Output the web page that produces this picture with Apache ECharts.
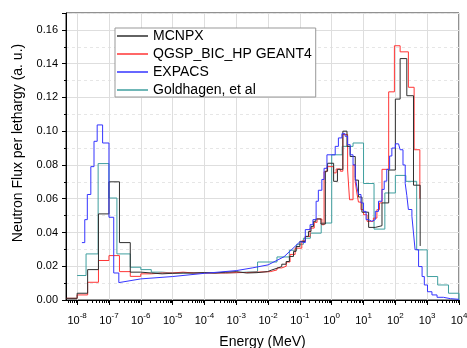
<!DOCTYPE html>
<html>
<head>
<meta charset="utf-8">
<script src="https://cdn.jsdelivr.net/npm/echarts@6/dist/echarts.min.js"></script>
<style>
html,body{margin:0;padding:0;background:#fff;}
#chart{width:467px;height:348px;}
</style>
</head>
<body>
<div id="chart"></div>
<script>
// ---------- data (energies stored as log10(E / MeV)) ----------
const seriesNames = ['MCNPX', 'QGSP_BIC_HP GEANT4', 'EXPACS', 'Goldhagen, et al'];
const xTickExponents = [-8, -7, -6, -5, -4, -3, -2, -1, 0, 1, 2, 3, 4];
const yTickLabels = ['0.00', '0.02', '0.04', '0.06', '0.08', '0.10', '0.12', '0.14', '0.16'];
const minorTickMultipliers = [2, 3, 4, 5, 6, 7, 8, 9];

// MCNPX: bin left edges, value of each bin (last value = level the final edge drops to)
const mcnpxLogE = [-8.33, -8.0, -7.67, -7.33, -7.0, -6.67, -6.33, -6.0, -5.67, -5.33, -5.0, -4.67, -4.33, -4.0,
  -3.67, -3.33, -3.0, -2.67, -2.35, -2.02, -1.88, -1.72, -1.57, -1.43, -1.33, -1.20, -1.12, -1.0, -0.83, -0.73,
  -0.65, -0.57, -0.50, -0.34, -0.20, -0.13, 0.06, 0.18, 0.35, 0.48, 0.58, 0.74, 0.84, 0.95, 1.16, 1.37, 1.58,
  1.79, 2.0, 2.15, 2.36, 2.57, 2.78];
const mcnpxFlux = [0.001, 0.004, 0.018, 0.051, 0.070, 0.034, 0.0165, 0.016, 0.0155, 0.0158, 0.016, 0.016, 0.0162, 0.016,
  0.0165, 0.0168, 0.016, 0.0162, 0.0168, 0.0178, 0.0188, 0.0198, 0.0212, 0.0228, 0.0258, 0.0288, 0.0317, 0.0347, 0.0377, 0.0406,
  0.0436, 0.0466, 0.048, 0.045, 0.0763, 0.081, 0.0703, 0.0774, 0.100, 0.091, 0.085, 0.071, 0.061, 0.052, 0.043, 0.044, 0.0575,
  0.077, 0.119, 0.143, 0.121, 0.068, 0.032];

// QGSP_BIC_HP GEANT4
const geantLogE = [-8.33, -8.0, -7.67, -7.33, -7.0, -6.67, -6.33, -6.0, -5.67, -5.33, -5.0, -4.67, -4.33, -4.0,
  -3.67, -3.33, -3.0, -2.67, -2.35, -1.93, -1.72, -1.57, -1.43, -1.31, -1.15, -0.94, -0.83, -0.68, -0.55, -0.46,
  -0.31, -0.24, -0.15, 0.06, 0.14, 0.27, 0.35, 0.50, 0.56, 0.67, 0.74, 0.79, 0.84, 0.92, 1.00, 1.11, 1.31, 1.42,
  1.50, 1.58, 1.79, 1.97, 2.15, 2.41, 2.59, 2.77];
const geantFlux = [0.001, 0.003, 0.0105, 0.0234, 0.0263, 0.0168, 0.014, 0.0155, 0.016, 0.016, 0.0165, 0.016, 0.016, 0.016,
  0.016, 0.0162, 0.0163, 0.0165, 0.0168, 0.0178, 0.019, 0.020, 0.0225, 0.027, 0.0307, 0.035, 0.0376, 0.0426, 0.046, 0.048,
  0.0446, 0.076, 0.079, 0.0753, 0.0776, 0.0763, 0.098, 0.077, 0.0594, 0.080, 0.070, 0.0634, 0.058, 0.0535, 0.0505, 0.0466, 0.0485, 0.0535,
  0.0575, 0.0774, 0.1233, 0.1506, 0.147, 0.126, 0.089, 0.060];

// EXPACS: thermal bins, smooth epithermal curve, fast bins
const expacsThermalEdges = [-7.85, -7.76, -7.68, -7.57, -7.47, -7.37, -7.2, -7.0, -6.85, -6.69];
const expacsThermalFlux = [0.034, 0.0476, 0.0625, 0.079, 0.094, 0.1037, 0.093, 0.049, 0.016];
const expacsMidLogE = [-6.69, -6.0, -5.0, -4.0, -3.0, -2.5, -2.0, -1.5, -1.25, -1.0];
const expacsMidFlux = [0.0103, 0.0125, 0.0139, 0.0158, 0.0174, 0.019, 0.0208, 0.0256, 0.030, 0.0345];
const expacsFastEdges = [-1.0, -0.83, -0.68, -0.59, -0.49, -0.42, -0.31, -0.24, -0.15, 0.11, 0.21, 0.32, 0.42, 0.50, 0.58,
  0.67, 0.74, 0.79, 0.84, 0.92, 1.00, 1.08, 1.16, 1.26, 1.37, 1.47, 1.58, 1.65, 1.73, 1.82, 1.89, 2.00, 2.10, 2.15, 2.24,
  2.31, 2.36, 2.41, 2.52, 2.57, 2.62, 2.73, 2.84, 2.91, 3.01, 3.15, 3.31, 3.51, 3.73, 4.0];
const expacsFastFlux = [0.034, 0.0417, 0.0446, 0.0476, 0.0585, 0.065, 0.0714, 0.078, 0.086, 0.091, 0.096, 0.0985, 0.097, 0.092, 0.086,
  0.080, 0.073, 0.067, 0.0625, 0.0575, 0.0525, 0.0476, 0.0466, 0.0476, 0.0525, 0.0585, 0.0655, 0.0704, 0.0774, 0.0853, 0.090, 0.0925, 0.0927, 0.089, 0.080,
  0.069, 0.062, 0.0536, 0.0496, 0.0397, 0.0298, 0.0198, 0.0139, 0.0089, 0.0049, 0.003, 0.0016, 0.0008, 0.0004];

// Goldhagen, et al
const goldLogE = [-8.0, -7.72, -7.34, -7.0, -6.75, -6.33, -6.0, -5.67, -5.33, -5.0, -4.67, -4.33, -4.0, -3.67, -3.33, -3.0,
  -2.67, -2.33, -1.72, -1.33, -1.1, -0.89, -0.67, -0.33, 0.0, 0.33, 0.67, 1.0, 1.33, 1.67, 2.0, 2.33, 2.67, 3.0, 3.33, 3.67, 4.0];
const goldFlux = [0.0145, 0.0273, 0.0808, 0.0604, 0.0273, 0.0194, 0.018, 0.0165, 0.016, 0.016, 0.016, 0.0162, 0.016, 0.016, 0.0162, 0.0165,
  0.0168, 0.0225, 0.0255, 0.0295, 0.033, 0.0366, 0.0396, 0.0456, 0.086, 0.091, 0.093, 0.069, 0.042, 0.0634, 0.0738, 0.0703, 0.0297, 0.0139, 0.0089, 0.004, 0.0];

// ---------- build ----------
const colors = {MCNPX: '#2e2e2e', GEANT: '#ff3535', EXPACS: '#3535ff', GOLD: '#3f9f9f'};
const xMinExp = -8.35, xMaxExp = 4;
const gridLeft = 66, gridRight = 8, gridTop = 13, gridBottom = 48;
const plotW = 467 - gridLeft - gridRight;
const gridBLeft = gridLeft + (xTickExponents[0] - xMinExp) / (xMaxExp - xMinExp) * plotW;

function stepPoints(logE, flux) { return logE.map((e, i) => [e, flux[i]]); }
function binCorners(edges, flux) {
  const pts = [];
  for (let i = 0; i < flux.length; i++) { pts.push([edges[i], flux[i]], [edges[i + 1], flux[i]]); }
  return pts;
}
const expacsData = binCorners(expacsThermalEdges, expacsThermalFlux)
  .concat(expacsMidLogE.map((e, i) => [e, expacsMidFlux[i]]))
  .concat(binCorners(expacsFastEdges, expacsFastFlux));

const minorTickLogE = [];
for (let n = -9; n <= 3; n++) {
  minorTickMultipliers.forEach(k => {
    const v = n + Math.log10(k);
    if (v > xMinExp && v < xMaxExp) minorTickLogE.push([v, 0]);
  });
}

const FONT = '"Liberation Sans", Arial, Helvetica, sans-serif';
const chart = echarts.init(document.getElementById('chart'), null, {renderer: 'canvas'});

const lineSeries = (name, data, color, step) => ({
  name: name, type: 'line', xAxisIndex: 0, yAxisIndex: 0, data: data, step: step,
  symbol: 'none', showSymbol: false, silent: true, animation: false,
  lineStyle: {color: color, width: 1}, itemStyle: {color: color}
});

chart.setOption({
  animation: false,
  backgroundColor: '#fff',
  textStyle: {fontFamily: FONT},
  grid: [
    {left: gridLeft, right: gridRight, top: gridTop, bottom: gridBottom, show: true,
     borderColor: '#222', borderWidth: 1, backgroundColor: 'transparent', containLabel: false, outerBoundsMode: 'none'},
    {left: gridBLeft, right: gridRight, top: gridTop, bottom: gridBottom, show: false, containLabel: false, outerBoundsMode: 'none'}
  ],
  xAxis: [
    {type: 'value', gridIndex: 0, min: xMinExp, max: xMaxExp,
     axisLine: {show: true, onZero: false, lineStyle: {color: '#000', width: 1}},
     axisTick: {show: false}, axisLabel: {show: false}, splitLine: {show: false},
     name: 'Energy (MeV)', nameLocation: 'middle', nameGap: 35,
     nameTextStyle: {fontSize: 14, color: '#000', fontFamily: FONT}},
    {type: 'value', gridIndex: 1, min: xTickExponents[0], max: xTickExponents[xTickExponents.length - 1], interval: 1,
     axisLine: {show: false, onZero: false},
     axisTick: {show: true, inside: false, length: 5, lineStyle: {color: '#000', width: 1}},
     splitLine: {show: true, lineStyle: {color: '#dedede', width: 1}},
     axisLabel: {show: true, margin: 12, color: '#000',
       formatter: v => xTickExponents.indexOf(v) >= 0 ? '{b|10}{s|' + v + '}' : '',
       rich: {
         b: {fontSize: 11, lineHeight: 18, fontFamily: FONT, color: '#000'},
         s: {fontSize: 8, lineHeight: 9, verticalAlign: 'top', fontFamily: FONT, color: '#000'}
       }}}
  ],
  yAxis: [
    {type: 'value', gridIndex: 0, min: 0, max: 0.17, interval: 0.02,
     axisLine: {show: true, onZero: false, lineStyle: {color: '#000', width: 1}},
     axisTick: {show: true, inside: false, length: 4, lineStyle: {color: '#000'}},
     minorTick: {show: true, splitNumber: 2, length: 2, lineStyle: {color: '#000'}},
     splitLine: {show: true, lineStyle: {color: '#dedede', width: 1}},
     minorSplitLine: {show: true, lineStyle: {color: '#e6e6e6', width: 1, type: [3, 3]}},
     axisLabel: {margin: 8, fontSize: 11, color: '#000', fontFamily: FONT,
       formatter: v => {
         const i = Math.round(v / 0.02);
         return Math.abs(i * 0.02 - v) < 1e-9 && i < yTickLabels.length ? yTickLabels[i] : '';
       }}},
    {type: 'value', gridIndex: 1, show: false, min: 0, max: 1, axisLine: {onZero: false}}
  ],
  legend: {
    data: seriesNames, orient: 'vertical', left: 115, top: 28,
    padding: [1, 4, 0, 2], itemGap: 4, itemWidth: 31, itemHeight: 1.5, icon: 'rect',
    backgroundColor: '#fff', borderColor: '#999', borderWidth: 1, borderRadius: 0,
    textStyle: {fontSize: 14, color: '#000', fontFamily: FONT},
    selectedMode: false
  },
  graphic: [{
    type: 'text', x: 18, y: 143, rotation: Math.PI / 2,
    style: {text: 'Neutron Flux per lethargy (a. u.)', fontSize: 14, fontFamily: FONT, fill: '#000',
            align: 'center', verticalAlign: 'middle', textAlign: 'center', textVerticalAlign: 'middle'}
  }],
  series: [
    lineSeries(seriesNames[3], stepPoints(goldLogE, goldFlux), colors.GOLD, 'end'),
    lineSeries(seriesNames[1], stepPoints(geantLogE, geantFlux), colors.GEANT, 'end'),
    lineSeries(seriesNames[0], stepPoints(mcnpxLogE, mcnpxFlux), colors.MCNPX, 'end'),
    lineSeries(seriesNames[2], expacsData, colors.EXPACS, false),
    {
      type: 'custom', xAxisIndex: 0, yAxisIndex: 0, silent: true, clip: false, z: 5,
      data: minorTickLogE, encode: {x: 0, y: 1},
      renderItem: (params, api) => {
        const p = api.coord([api.value(0), 0]);
        const x = Math.round(p[0]) + 0.5;
        return {type: 'line', shape: {x1: x, y1: p[1], x2: x, y2: p[1] + 3},
                style: {stroke: '#000', lineWidth: 1}};
      }
    }
  ]
});
</script>
</body>
</html>
